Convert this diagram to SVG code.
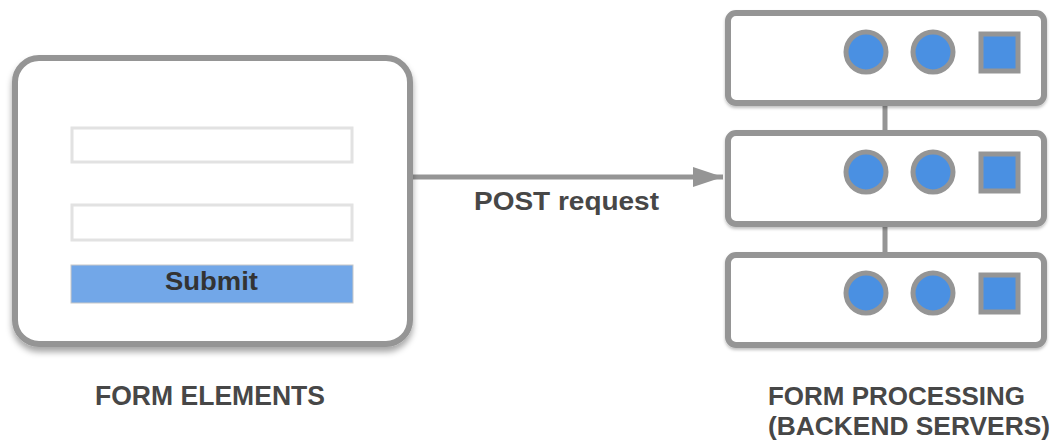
<svg xmlns="http://www.w3.org/2000/svg" width="1052" height="441" viewBox="0 0 1052 441">
<defs>
<style>
.box{fill:#fff;stroke:#959595;stroke-width:6}
.inp{fill:#fff;stroke:#e2e2e2;stroke-width:3}
.srv{fill:#fff;stroke:#959595;stroke-width:6}
.dot{fill:#4a90e2;stroke:#959595;stroke-width:5}
.lbl{font-family:"Liberation Sans",Arial,sans-serif;font-weight:700;fill:#474747}
.link{stroke:#959595;stroke-width:5;fill:none}
</style>
<filter id="sh" x="-10%" y="-10%" width="120%" height="130%">
<feDropShadow dx="0" dy="5" stdDeviation="3" flood-color="#000" flood-opacity="0.35"/>
</filter>
<filter id="sh2" x="-10%" y="-10%" width="120%" height="130%">
<feDropShadow dx="0" dy="2" stdDeviation="1.5" flood-color="#000" flood-opacity="0.25"/>
</filter>
<marker id="arr" markerUnits="userSpaceOnUse" markerWidth="32" markerHeight="20" refX="30" refY="10" orient="auto">
<path d="M0,0 L30,10 L0,20 Z" fill="#959595"/>
</marker>
</defs>
<g id="connectors">
<line class="link" x1="413" y1="177" x2="723" y2="177" marker-end="url(#arr)"/>
<text class="lbl" x="474" y="210" font-size="26" textLength="185" lengthAdjust="spacingAndGlyphs">POST request</text>
<line class="link" x1="885" y1="104" x2="885" y2="132"/>
<line class="link" x1="885" y1="225" x2="885" y2="254"/>
</g>
<g id="form">
<rect class="box" x="15" y="58" width="395" height="286" rx="24" filter="url(#sh)"/>
<rect class="inp" x="72" y="128" width="280" height="34"/>
<rect class="inp" x="72" y="205" width="280" height="35"/>
<rect x="71" y="265" width="282" height="38" fill="#72a7e8" stroke="#c8c8c8" stroke-width="1"/>
<text class="lbl" x="165" y="290" font-size="25" textLength="93" lengthAdjust="spacingAndGlyphs" style="fill:#333">Submit</text>
<text class="lbl" x="95" y="405" font-size="27" textLength="230" lengthAdjust="spacingAndGlyphs">FORM ELEMENTS</text>
</g>
<g id="server1">
<rect class="srv" x="728" y="13" width="316" height="90" rx="8" filter="url(#sh2)"/>
<circle class="dot" cx="866" cy="52" r="20"/>
<circle class="dot" cx="933" cy="52" r="20"/>
<rect class="dot" x="981" y="34" width="37" height="37"/>
</g>
<g id="server2">
<rect class="srv" x="728" y="133" width="316" height="91" rx="8" filter="url(#sh2)"/>
<circle class="dot" cx="866" cy="172" r="20"/>
<circle class="dot" cx="933" cy="172" r="20"/>
<rect class="dot" x="981" y="154" width="37" height="37"/>
</g>
<g id="server3">
<rect class="srv" x="728" y="255" width="316" height="90" rx="8" filter="url(#sh2)"/>
<circle class="dot" cx="866" cy="293" r="20"/>
<circle class="dot" cx="933" cy="293" r="20"/>
<rect class="dot" x="981" y="275" width="37" height="37"/>
</g>
<g id="server-label">
<text class="lbl" x="768" y="405" font-size="26.5" textLength="257" lengthAdjust="spacingAndGlyphs">FORM PROCESSING</text>
<text class="lbl" x="768" y="435" font-size="26.5" textLength="282" lengthAdjust="spacingAndGlyphs">(BACKEND SERVERS)</text>
</g>
</svg>
